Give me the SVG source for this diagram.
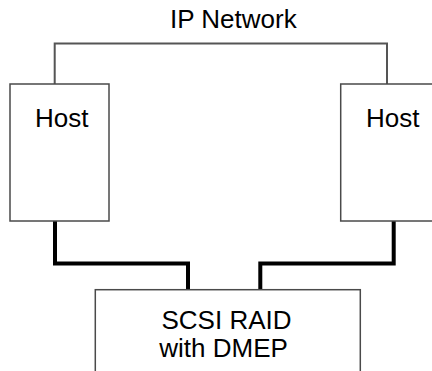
<svg xmlns="http://www.w3.org/2000/svg" width="432" height="371" viewBox="0 0 432 371">
  <style>
    .box { fill: #ffffff; stroke: #4a4a4a; stroke-width: 1.5; }
    .net { fill: none; stroke: #555555; stroke-width: 2; }
    .scsi { fill: none; stroke: #000000; stroke-width: 4; stroke-linejoin: miter; }
    .label { font-family: "Liberation Sans", Arial, sans-serif; font-size: 26px; fill: #000000; }
  </style>
  <rect width="432" height="371" fill="#ffffff"/>

  <g id="connectors">
    <!-- IP network link between the two hosts -->
    <path class="net" d="M54.7,84 V43.5 H387 V84"/>
    <!-- SCSI cables from each host down to the RAID -->
    <path class="scsi" d="M55,221 V263.5 H188 V290"/>
    <path class="scsi" d="M393.7,221 V263.5 H260.3 V290"/>
  </g>

  <g id="ip-network">
    <text class="label" x="170" y="28">IP Network</text>
  </g>

  <g id="host-left">
    <rect class="box" x="10" y="84" width="99" height="137"/>
    <text class="label" x="35" y="126.5">Host</text>
  </g>

  <g id="host-right">
    <rect class="box" x="340.7" y="84" width="110" height="137"/>
    <text class="label" x="366" y="126.5">Host</text>
  </g>

  <g id="scsi-raid">
    <rect class="box" x="95.3" y="289.7" width="265" height="100"/>
    <text class="label" x="161.5" y="329">SCSI RAID</text>
    <text class="label" x="159.3" y="356.5">with DMEP</text>
  </g>
</svg>
